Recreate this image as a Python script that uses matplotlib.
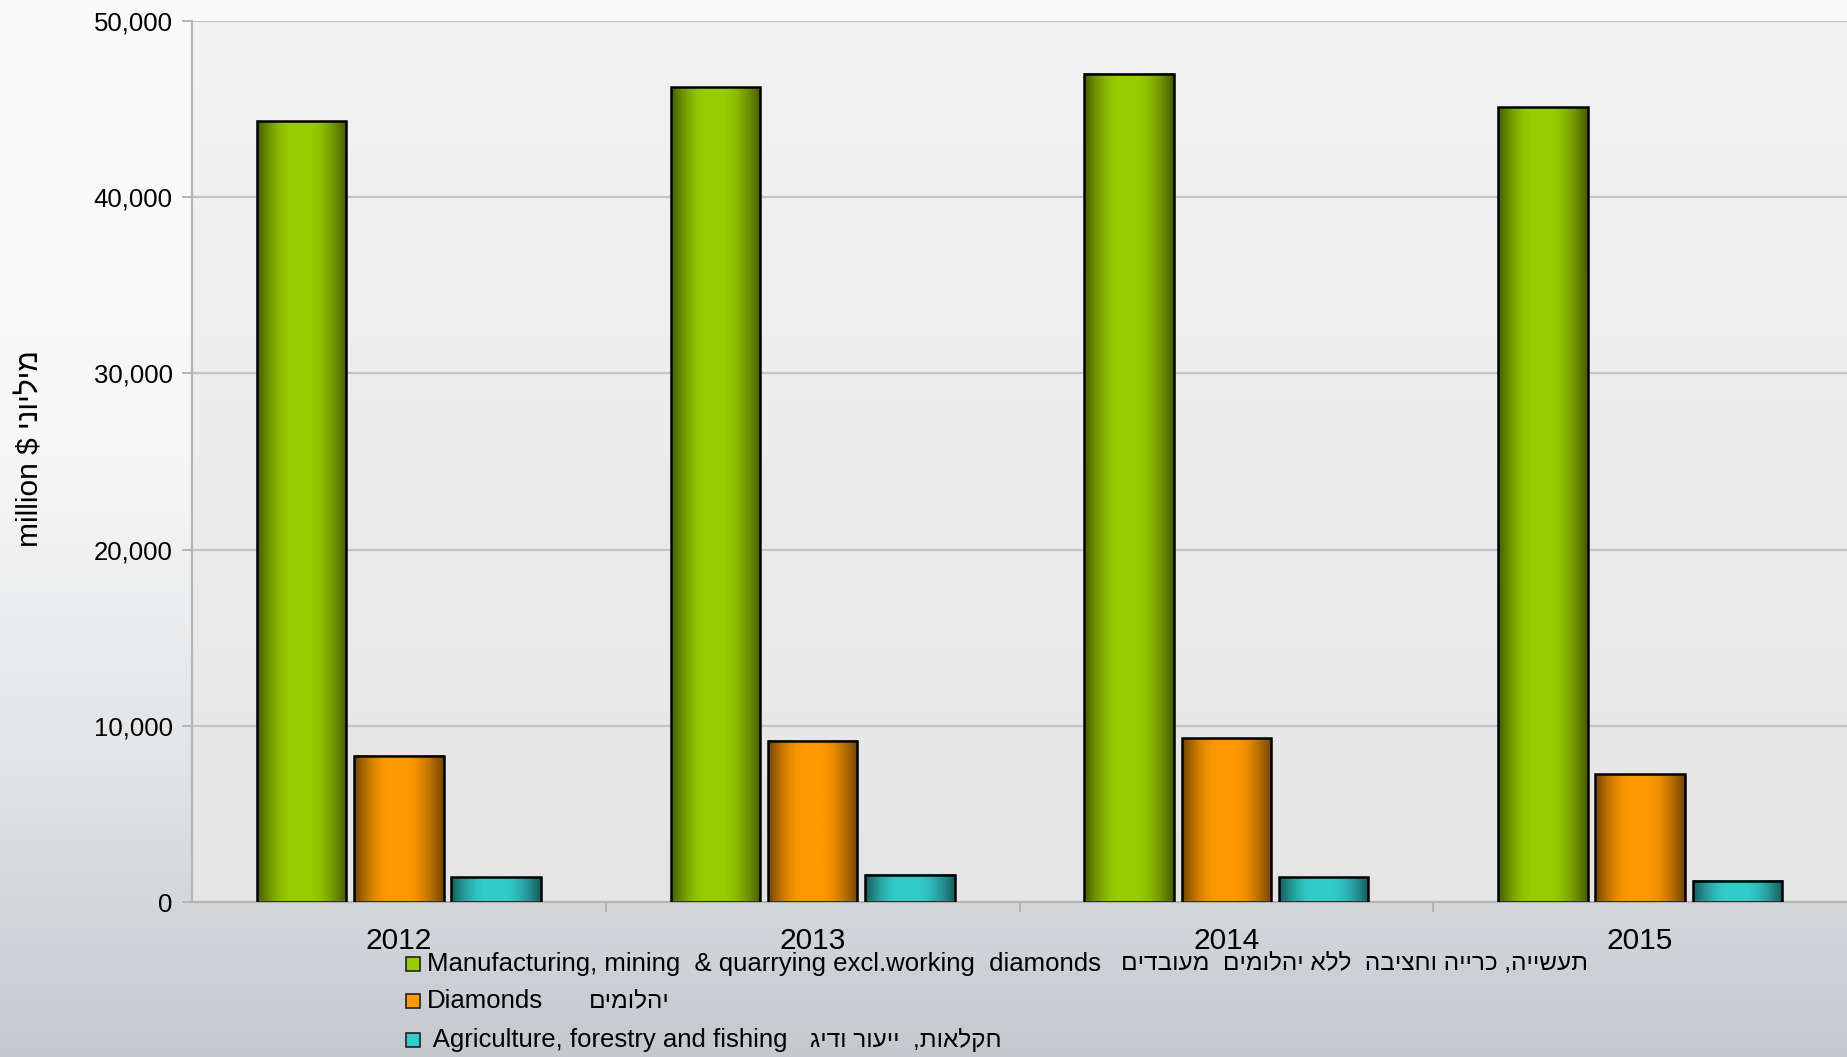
import numpy as np
import matplotlib
matplotlib.use("Agg")
import matplotlib.pyplot as plt
from matplotlib.colors import to_rgb, LinearSegmentedColormap
from matplotlib.patches import Rectangle

plt.rcParams['font.family'] = ['Liberation Sans', 'DejaVu Sans']

# ---------------- data ----------------
years = ["2012", "2013", "2014", "2015"]
manufacturing = [44300, 46250, 47000, 45100]
diamonds = [8300, 9150, 9300, 7250]
agriculture = [1400, 1550, 1400, 1200]
y_ticks = [0, 10000, 20000, 30000, 40000, 50000]


def vis(s):
    """visual (left-to-right) order for a Hebrew run"""
    return s[::-1]


series_labels_en = [
    "Manufacturing, mining  & quarrying excl.working  diamonds",
    "Diamonds",
    " Agriculture, forestry and fishing",
]
series_labels_he = [
    vis("תעשייה, כרייה וחציבה  ללא יהלומים  מעובדים"),
    vis("יהלומים"),
    vis("חקלאות,  ייעור ודיג"),
]
series_values = [manufacturing, diamonds, agriculture]
series_colors = ["#99cc00", "#ff9900", "#33cccc"]
y_label = "million $ " + vis("מיליוני")

# ---------------- figure ----------------
W, H = 1847, 1057
fig = plt.figure(figsize=(W / 100, H / 100), dpi=100)

# figure background gradient
bg = fig.add_axes([0, 0, 1, 1], zorder=-10)
bg.axis('off')
bg_cmap = LinearSegmentedColormap.from_list(
    "bg", [(0.0, "#fbfbfb"), (0.42, "#f7f7f7"), (0.72, "#e2e4e6"),
           (1.0, "#c5c9ce")])
grad = np.linspace(0, 1, 512).reshape(-1, 1)
bg.imshow(grad, aspect='auto', cmap=bg_cmap, extent=(0, 1, 0, 1),
          origin='upper')
bg.set_xlim(0, 1)
bg.set_ylim(0, 1)

ax_left = 192 / W
ax_bottom = (H - 902) / H
ax_top = (H - 21) / H
ax = fig.add_axes([ax_left, ax_bottom, 1.0 - ax_left, ax_top - ax_bottom])
ax.set_facecolor('none')

# plot area gradient
pa_cmap = LinearSegmentedColormap.from_list("pa", ["#f3f3f3", "#e5e5e5"])
ax.imshow(np.linspace(0, 1, 256).reshape(-1, 1), aspect='auto',
          cmap=pa_cmap, extent=(0, len(years), 0, 50000), origin='upper',
          zorder=0)

x = np.arange(len(years)) + 0.5
width = 0.216
offsets = [-0.235, 0.0, 0.235]


def profile(n=200):
    t = np.linspace(0, 1, n)
    f = np.empty_like(t)
    lo, hi = 0.40, 0.56
    m1 = t < lo
    m2 = t > hi
    f[:] = 1.0
    f[m1] = 0.45 + 0.55 * np.sin(np.pi / 2 * t[m1] / lo)
    f[m2] = 0.45 + 0.55 * np.cos(np.pi / 2 * (t[m2] - hi) / (1 - hi))
    return f


prof = profile()
for vals, col, off in zip(series_values, series_colors, offsets):
    bars = ax.bar(x + off, vals, width=width, facecolor='none',
                  edgecolor='black', linewidth=1.8, zorder=3)
    rgb = np.array(to_rgb(col))
    img = (prof[:, None] * rgb[None, :])[None, :, :]
    for b in bars:
        ax.imshow(img, aspect='auto',
                  extent=(b.get_x(), b.get_x() + b.get_width(), 0,
                          b.get_height()),
                  zorder=2, interpolation='bilinear')

ax.set_xlim(0, len(years))
ax.set_ylim(0, 50000)

# grid and spines
ax.set_yticks(y_ticks)
ax.set_yticklabels([f"{v:,}" for v in y_ticks])
ax.set_axisbelow(True)
ax.yaxis.grid(True, color="#c4c4c4", linewidth=1.6)
for s in ['top', 'right']:
    ax.spines[s].set_visible(False)
for s in ['left', 'bottom']:
    ax.spines[s].set_color("#b4b4b4")
    ax.spines[s].set_linewidth(1.6)

ax.tick_params(axis='y', direction='out', length=7, width=1.4,
               color="#b4b4b4", labelsize=18.5, pad=7)
ax.set_xticks(np.arange(1, len(years)))
ax.set_xticklabels([])
ax.tick_params(axis='x', which='major', direction='out', length=7,
               width=1.4, color="#b4b4b4")
ax.set_xticks(x, minor=True)
ax.set_xticklabels(years, minor=True)
ax.tick_params(axis='x', which='minor', length=0, labelsize=21.5, pad=18)

fig.text(0.0165, (H - 449) / H, y_label, rotation=90, ha='center',
         va='center', fontsize=21.5)

# legend (manual)
row_y = [964, 1001, 1040]
he_x = [1121, 589, 810]
for en, he, col, ry, hx in zip(series_labels_en, series_labels_he,
                               series_colors, row_y, he_x):
    sq = 14
    fig.patches.append(Rectangle(((406) / W, (H - ry - sq / 2) / H),
                                 sq / W, sq / H, transform=fig.transFigure,
                                 facecolor=col, edgecolor="#222222",
                                 linewidth=1.2))
    fig.text(427 / W, (H - ry) / H, en, ha='left', va='center',
             fontsize=18.5)
    fig.text(hx / W, (H - ry) / H, he, ha='left', va='center',
             fontsize=17.6)

fig.savefig("out.png", dpi=100)
